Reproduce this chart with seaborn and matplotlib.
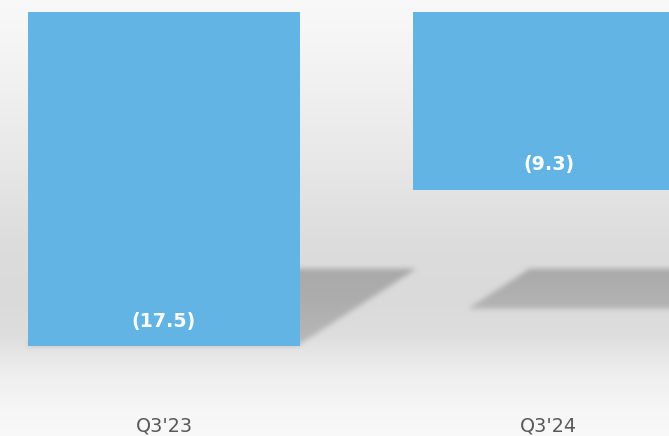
import numpy as np
import pandas as pd
import matplotlib
matplotlib.use("Agg")
import matplotlib.pyplot as plt
import matplotlib.transforms as mtransforms
import seaborn as sns

# Quarterly result (negative values, shown in parentheses)
quarters = ["Q3'23", "Q3'24"]
values = [-17.5, -9.3]

BAR_COLOR = "#62b4e4"
TEXT_GRAY = "#595959"

sns.set_theme(style="white")
plt.rcParams["font.family"] = ["DejaVu Sans"]

W, H, DPI = 669, 436, 100
fig = plt.figure(figsize=(W / DPI, H / DPI), dpi=DPI)
ax = fig.add_axes([0, 0, 1, 1])

df = pd.DataFrame({"quarter": quarters, "value": values})
sns.barplot(data=df, x="quarter", y="value", color=BAR_COLOR, saturation=1,
            width=0.706, ax=ax, zorder=3, edgecolor="none")

XLIM = (-0.426, 1.312)
YLIM = (-22.2, 0.63)
ax.set_xlim(*XLIM)
ax.set_ylim(*YLIM)
ax.set_axis_off()

# ---- backdrop: vertical grey gradient with soft floor shadows ----
rows = np.arange(H)
stops_y = [0, 60, 160, 240, 300, 335, 370, 410, 436]
stops_v = [0.975, 0.955, 0.91, 0.865, 0.855, 0.87, 0.93, 0.965, 0.975]
bg = np.interp(rows, stops_y, stops_v)[:, None] * np.ones((1, W))


def blur(a, s):
    r = int(3 * s)
    k = np.exp(-0.5 * (np.arange(-r, r + 1) / s) ** 2)
    k /= k.sum()
    a = np.pad(a, r, mode="edge")
    a = np.apply_along_axis(lambda v: np.convolve(v, k, mode="same"), 0, a)
    a = np.apply_along_axis(lambda v: np.convolve(v, k, mode="same"), 1, a)
    return a[r:-r, r:-r]


fig.canvas.draw()
floor_row = H * (1 - 0.385)          # where the shadows meet the floor
shadow = np.zeros((H, W))
yy, xx = np.mgrid[0:H, 0:W]
for p in ax.patches:
    (x0, y0), (x1, y1) = ax.transData.transform(
        [(p.get_x(), p.get_y()), (p.get_x() + p.get_width(), p.get_y() + p.get_height())])
    bw = x1 - x0
    bh = abs(y1 - y0)
    shift = 0.43 * bw
    depth = 0.23 * bh
    slant = 1.55
    d = yy - floor_row
    inside = (d >= 0) & (d <= depth)
    lo = x0 + shift - slant * d
    hi = x1 + shift - slant * d
    # slightly lighter towards the far end of the shadow
    fade = 1 - 0.25 * np.clip(d / max(depth, 1), 0, 1)
    shadow = np.maximum(shadow, (inside & (xx >= lo) & (xx <= hi)) * fade)
shadow = blur(shadow, 2.6)
img = bg * (1 - 0.23 * shadow)
ax.imshow(np.dstack([img] * 3), extent=(*XLIM, *YLIM), origin="upper",
          aspect="auto", zorder=0, interpolation="bilinear")
ax.set_xlim(*XLIM)
ax.set_ylim(*YLIM)

# ---- value labels inside the bars ----
for i, v in enumerate(values):
    ax.annotate(f"({abs(v):.1f})", xy=(i, v), xytext=(0, 18), textcoords="offset points",
                ha="center", va="center", color="white", fontsize=13.7,
                fontweight="bold", zorder=5)

# ---- category labels ----
trans = mtransforms.blended_transform_factory(ax.transData, ax.transAxes)
for i, q in enumerate(quarters):
    ax.text(i, 0.0095, q, transform=trans, ha="center", va="baseline",
            color=TEXT_GRAY, fontsize=13.8)

fig.savefig("out.png", dpi=DPI)
